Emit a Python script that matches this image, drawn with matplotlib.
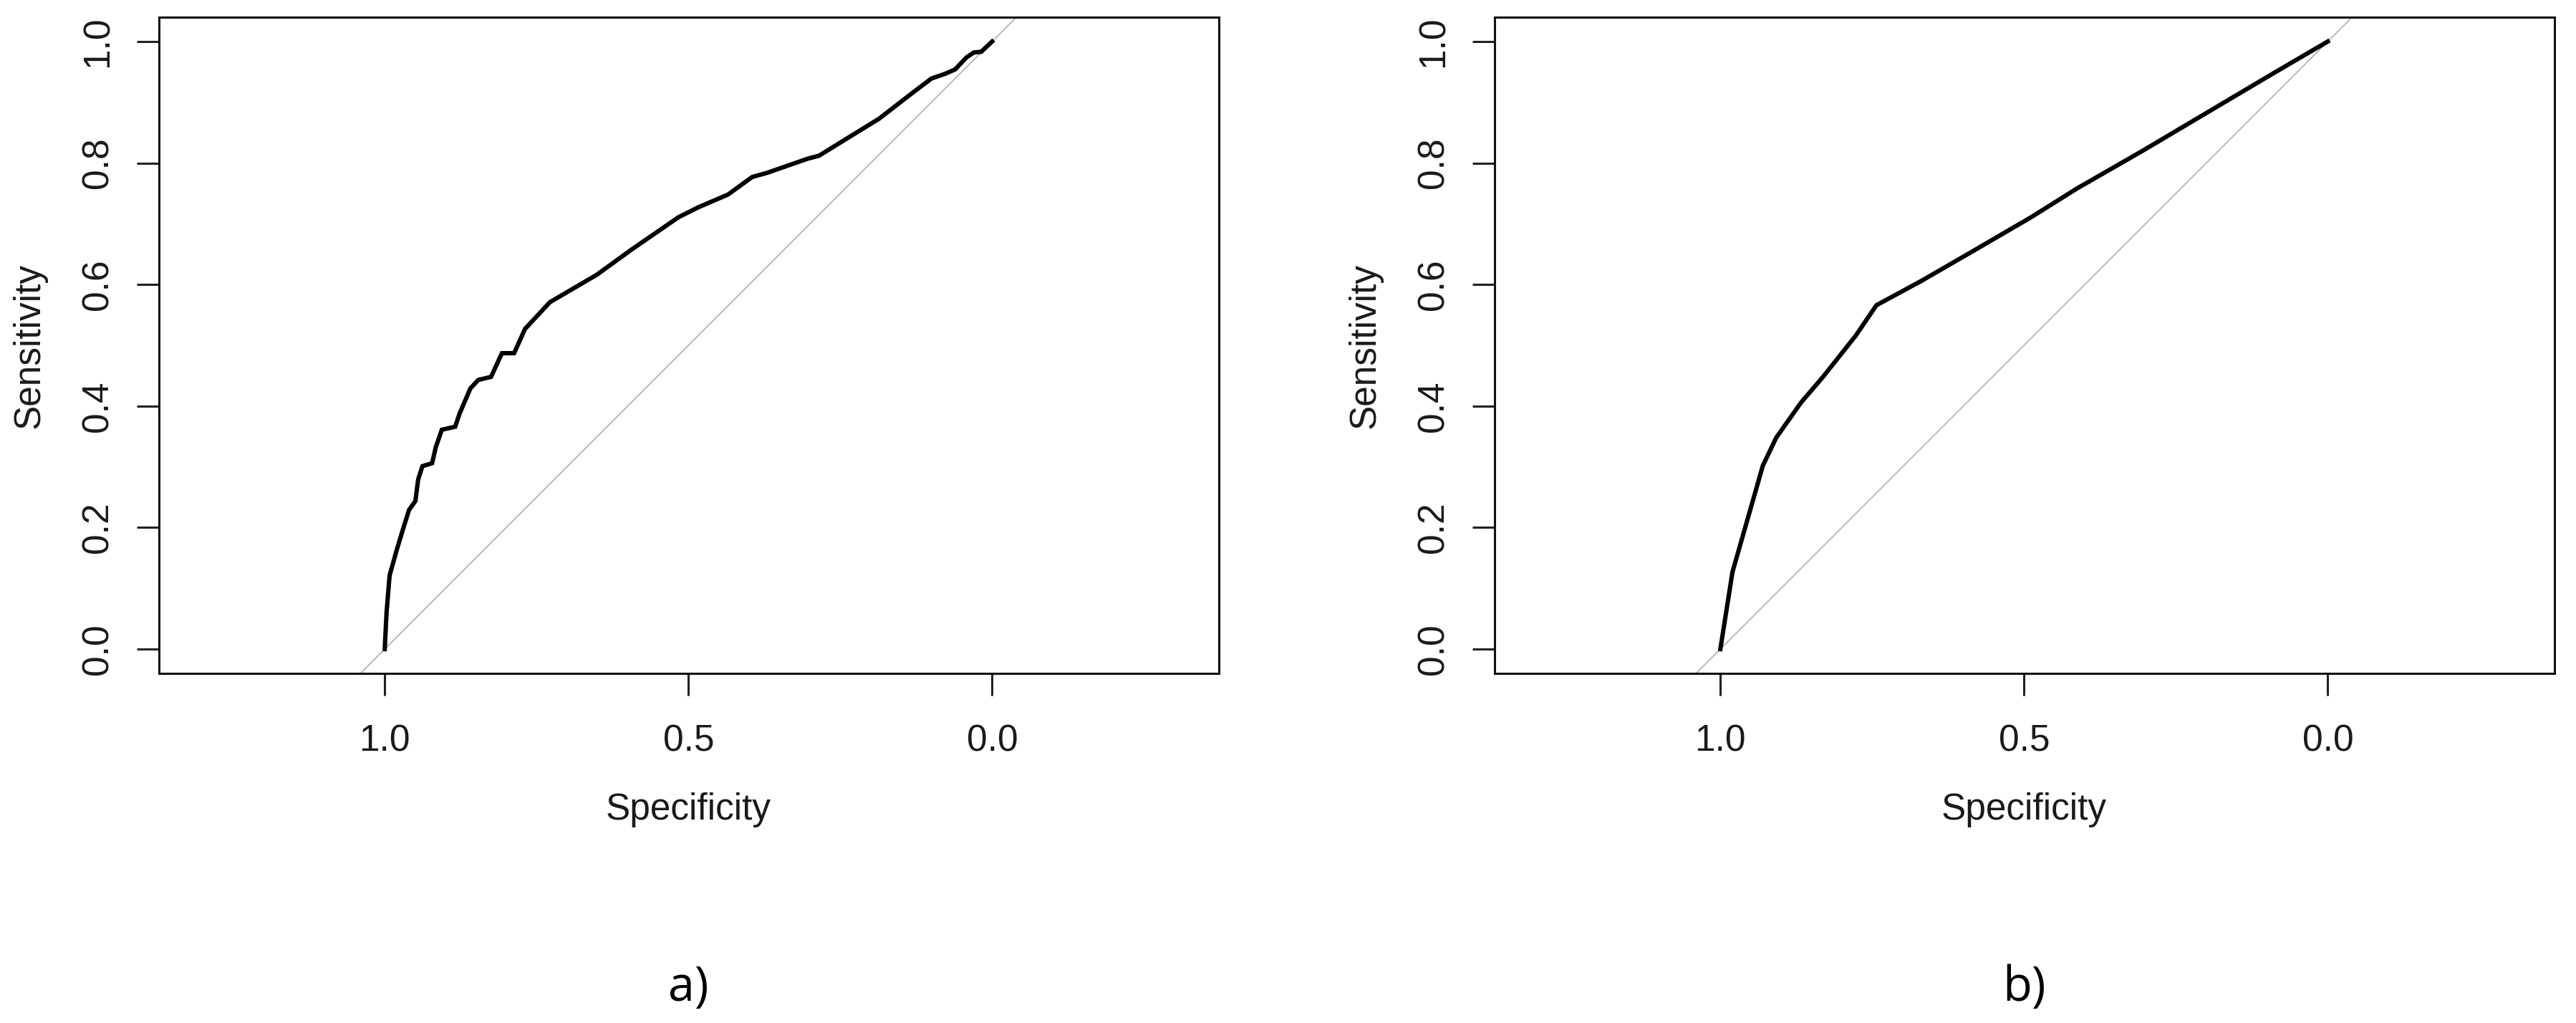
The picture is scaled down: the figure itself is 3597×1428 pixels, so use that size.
import matplotlib
matplotlib.use("Agg")
import matplotlib.pyplot as plt

# ---- data ----
spec_a = [1.0, 0.997, 0.992, 0.980, 0.970, 0.960, 0.9495, 0.945, 0.938, 0.922, 0.916,
          0.906, 0.884, 0.877, 0.859, 0.846, 0.825, 0.807, 0.787, 0.769, 0.728, 0.651,
          0.593, 0.516, 0.484, 0.435, 0.395, 0.370, 0.304, 0.285, 0.238, 0.186, 0.133,
          0.100, 0.077, 0.061, 0.042, 0.030, 0.018, 0.0]
sens_a = [0.0, 0.06, 0.121, 0.164, 0.197, 0.229, 0.2437, 0.279, 0.301, 0.306, 0.332,
          0.361, 0.366, 0.387, 0.429, 0.443, 0.448, 0.487, 0.487, 0.527, 0.571, 0.616,
          0.658, 0.711, 0.727, 0.748, 0.777, 0.784, 0.807, 0.812, 0.841, 0.873, 0.914,
          0.939, 0.947, 0.954, 0.974, 0.982, 0.983, 1.0]

spec_b = [1.0, 0.98, 0.93, 0.908, 0.867, 0.831, 0.777, 0.743, 0.669, 0.579, 0.488,
          0.413, 0.305, 0.197, 0.089, 0.0]
sens_b = [0.0, 0.127, 0.302, 0.348, 0.406, 0.448, 0.516, 0.566, 0.606, 0.658, 0.711,
          0.758, 0.820, 0.884, 0.948, 1.0]

x_ticks = [1.0, 0.5, 0.0]
x_ticklabels = ["1.0", "0.5", "0.0"]
y_ticks = [0.0, 0.2, 0.4, 0.6, 0.8, 1.0]
y_ticklabels = ["0.0", "0.2", "0.4", "0.6", "0.8", "1.0"]
panel_labels = ["a)", "b)"]
x_label = "Specificity"
y_label = "Sensitivity"

# ---- figure ----
W, H = 3598, 1428
fig = plt.figure(figsize=(W / 100, H / 100), dpi=100)
fig.patch.set_facecolor("white")

plt.rcParams["font.family"] = ["Liberation Sans", "DejaVu Sans"]

ax_w = 1480 / W
ax_h = 916 / H
ax_b = (H - 940) / H
lefts = [221.7 / W, 2086.7 / W]

curves = [(spec_a, sens_a), (spec_b, sens_b)]

for i, (sx, sy) in enumerate(curves):
    ax = fig.add_axes([lefts[i], ax_b, ax_w, ax_h])
    ax.set_xlim(1.372, -0.373)
    ax.set_ylim(-0.04, 1.04)
    ax.axline((1.0, 0.0), (0.0, 1.0), color="#b8b8b8", lw=1.4, zorder=1)
    ax.plot(sx, sy, color="black", lw=4.4, solid_joinstyle="miter", zorder=2)

    ax.set_xticks(x_ticks)
    ax.set_xticklabels(x_ticklabels, fontsize=37)
    ax.set_yticks(y_ticks)
    ax.set_yticklabels(y_ticklabels, fontsize=37, rotation=90, va="center", ha="right")
    ax.tick_params(axis="x", direction="out", length=22, width=2.2, pad=29, colors="#222222",
                   labelcolor="#1a1a1a")
    ax.tick_params(axis="y", direction="out", length=22, width=2.2, pad=21, colors="#222222",
                   labelcolor="#1a1a1a")
    for sp in ax.spines.values():
        sp.set_linewidth(2.2)
        sp.set_color("#111111")
    ax.set_xlabel(x_label, fontsize=37, labelpad=33, color="#1a1a1a")
    ax.set_ylabel(y_label, fontsize=37, labelpad=34, color="#1a1a1a")

    cx = (lefts[i] + ax_w / 2)
    fig.text(cx, (H - 1397) / H, panel_labels[i], fontsize=48, family=["Open Sans", "DejaVu Sans"],
             ha="center", va="baseline", color="black")

fig.savefig("out.png", dpi=100, facecolor="white")
